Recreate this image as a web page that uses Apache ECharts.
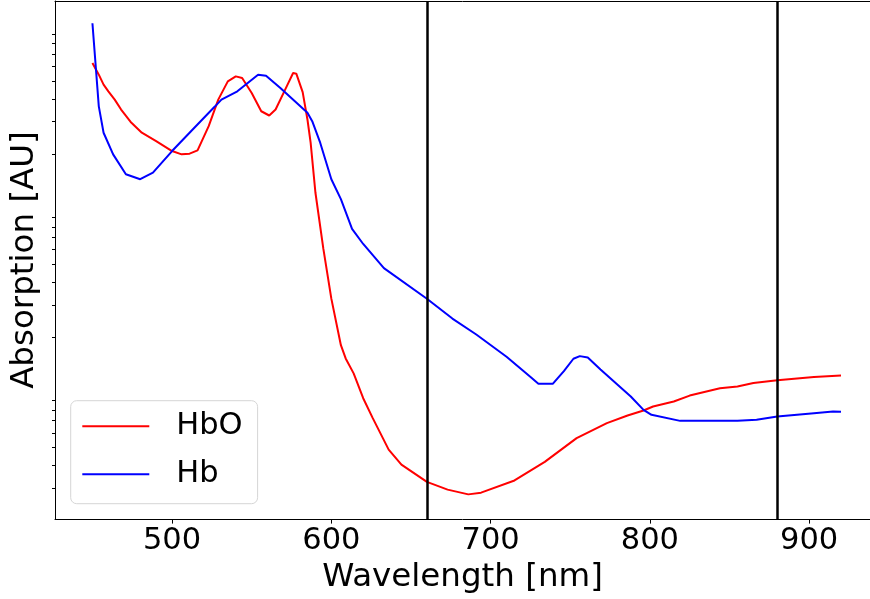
<!DOCTYPE html>
<html>
<head>
<meta charset="utf-8">
<script src="https://cdn.jsdelivr.net/npm/echarts@6/dist/echarts.min.js"></script>
<style>html,body{margin:0;padding:0;background:#fff;}#c{width:870px;height:599px;}</style>
</head>
<body>
<div id="c"></div>
<script>
// Wavelength [nm] and absorption values
const hboWavelength = [450,454,457,460,464,468,474,481,490,500,506,511,516,523,529,535,540,544,550,556,561,565,571,576,578,582,585,587,590,595,600,606,609,614,620,626,636,644,660,673,686,694,715,734,754,773,786,796,802,815,825,844,855,865,880,903,920];
const hboValues = [62700,54170,47790,43960,39610,34950,29900,26120,23500,20740,19900,20080,20930,28360,39610,49810,53030,51980,43080,34210,32430,34950,44900,55330,54850,43510,30840,23040,12320,6062,3243,1807,1530,1268,928,722,486,403,324,294,277,283,330,417,562,678,747,795,836,890,959,1051,1074,1123,1162,1211,1233];

const hbWavelength = [450,454,457,463,471,480,488,500,514,527,531,541,554,559,568,585,588,593,600,606,613,620,633,660,676,691,710,726,730,739,746,752,756,761,769,788,796,801,819,855,867,880,903,915,920];
const hbValues = [103400,36400,26100,19900,15500,14560,15830,20740,27800,36400,39600,43960,54170,53500,45860,33540,30200,23040,14560,11330,7790,6450,4760,3240,2525,2067,1563,1191,1112,1112,1305,1524,1575,1546,1330,948,801,753,698,698,707,738,769,785,782];

const xTicks = [500,600,700,800,900];
const yMinorTicks = [300,400,500,600,700,800,900,2000,3000,4000,5000,6000,7000,8000,9000,20000,30000,40000,50000,60000,70000,80000,90000];
const verticalLines = [660,880];

const FONT = 'DejaVu Sans';
const zip = (a,b) => a.map((v,i)=>[v,b[i]]);

const chart = echarts.init(document.getElementById('c'));
chart.setOption({
  animation: false,
  backgroundColor: '#fff',
  grid: { left: 53.3, top: 1, right: 0, bottom: 77.7, show: false, containLabel: false },
  xAxis: [{
    type: 'value', min: 426.5, max: 938.2,
    name: 'Wavelength [nm]', nameLocation: 'middle', nameGap: 40,
    nameTextStyle: { fontFamily: FONT, fontSize: 32.5, color: '#000' },
    axisLine: { onZero: false, lineStyle: { color: '#000', width: 1 } },
    axisTick: { show: true, length: 4.5, customValues: xTicks, lineStyle: { color: '#000', width: 1 } },
    axisLabel: { customValues: xTicks, margin: 6, fontFamily: FONT, fontSize: 30.5, color: '#000' },
    splitLine: { show: false }
  }, {
    type: 'value', position: 'top', min: 426.5, max: 938.2,
    axisLine: { onZero: false, lineStyle: { color: '#000', width: 1 } },
    axisTick: { show: false }, axisLabel: { show: false }, splitLine: { show: false }
  }],
  yAxis: {
    type: 'log', min: 203, max: 136800, logBase: 10,
    name: 'Absorption [AU]', nameLocation: 'middle', nameGap: 14,
    nameTextStyle: { fontFamily: FONT, fontSize: 32.5, color: '#000' },
    axisLine: { show: true, lineStyle: { color: '#000', width: 1 } },
    axisTick: { show: true, length: 3, customValues: yMinorTicks, lineStyle: { color: '#000', width: 1 } },
    axisLabel: { show: false },
    splitLine: { show: false }
  },
  legend: {
    orient: 'vertical', left: 70.7, top: 400.7,
    padding: [10, 15, 14, 11.6], itemGap: 17,
    backgroundColor: '#fff', borderColor: '#d6d6d6', borderWidth: 1, borderRadius: 6,
    icon: 'rect', itemWidth: 67, itemHeight: 2,
    textStyle: { fontFamily: FONT, fontSize: 30.5, color: '#000', lineHeight: 30, padding: [0,0,0,22] },
    data: ['HbO', 'Hb']
  },
  series: [
    { name: 'HbO', type: 'line', data: zip(hboWavelength, hboValues), showSymbol: false, symbol: 'none',
      lineStyle: { color: '#ff0000', width: 2 }, itemStyle: { color: '#ff0000' }, z: 2 },
    { name: 'Hb', type: 'line', data: zip(hbWavelength, hbValues), showSymbol: false, symbol: 'none',
      lineStyle: { color: '#0000ff', width: 2 }, itemStyle: { color: '#0000ff' }, z: 3,
      markLine: { silent: true, symbol: ['none','none'], label: { show: false },
        lineStyle: { color: '#000', width: 2.5, type: 'solid' },
        data: verticalLines.map(v => ({ xAxis: v })) , z: 5 } }
  ]
});
</script>
</body>
</html>
